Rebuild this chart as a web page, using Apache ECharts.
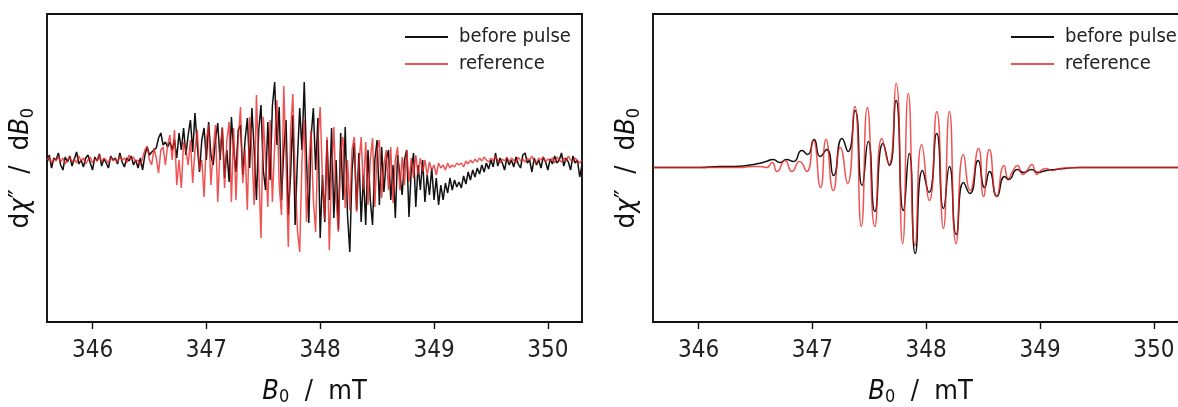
<!DOCTYPE html>
<html><head><meta charset="utf-8">
<script src="https://cdn.jsdelivr.net/npm/echarts@6/dist/echarts.min.js"></script>
<style>html,body{margin:0;padding:0;background:#fff}#c{width:1178px;height:407px}</style>
</head><body><div id="c"></div>
<script>
// magnetic field grid (mT) for the left panel
const fieldLeft = [
345.6,345.62,345.64,345.66,345.68,345.7,345.72,345.74,345.76,345.78,
345.8,345.82,345.84,345.86,345.88,345.9,345.92,345.94,345.96,345.98,
346,346.02,346.04,346.06,346.08,346.1,346.12,346.14,346.16,346.18,
346.2,346.22,346.24,346.26,346.28,346.3,346.32,346.34,346.36,346.38,
346.4,346.42,346.44,346.46,346.48,346.5,346.52,346.54,346.56,346.58,
346.6,346.62,346.64,346.66,346.68,346.7,346.72,346.74,346.76,346.78,
346.8,346.82,346.84,346.86,346.88,346.9,346.92,346.94,346.96,346.98,
347,347.02,347.04,347.06,347.08,347.1,347.12,347.14,347.16,347.18,
347.2,347.22,347.24,347.26,347.28,347.3,347.32,347.34,347.36,347.38,
347.4,347.42,347.44,347.46,347.48,347.5,347.52,347.54,347.56,347.58,
347.6,347.62,347.64,347.66,347.68,347.7,347.72,347.74,347.76,347.78,
347.8,347.82,347.84,347.86,347.88,347.9,347.92,347.94,347.96,347.98,
348,348.02,348.04,348.06,348.08,348.1,348.12,348.14,348.16,348.18,
348.2,348.22,348.24,348.26,348.28,348.3,348.32,348.34,348.36,348.38,
348.4,348.42,348.44,348.46,348.48,348.5,348.52,348.54,348.56,348.58,
348.6,348.62,348.64,348.66,348.68,348.7,348.72,348.74,348.76,348.78,
348.8,348.82,348.84,348.86,348.88,348.9,348.92,348.94,348.96,348.98,
349,349.02,349.04,349.06,349.08,349.1,349.12,349.14,349.16,349.18,
349.2,349.22,349.24,349.26,349.28,349.3,349.32,349.34,349.36,349.38,
349.4,349.42,349.44,349.46,349.48,349.5,349.52,349.54,349.56,349.58,
349.6,349.62,349.64,349.66,349.68,349.7,349.72,349.74,349.76,349.78,
349.8,349.82,349.84,349.86,349.88,349.9,349.92,349.94,349.96,349.98,
350,350.02,350.04,350.06,350.08,350.1,350.12,350.14,350.16,350.18,
350.2,350.22,350.24,350.26,350.28,350.3
];
// left panel signal, "before pulse" (arb. units)
const beforeLeft = [
-3,5,-8,2,0,7,-5,-10,3,-2,
4,-6,1,8,-4,0,-7,2,5,-3,
-10,3,-1,6,-6,1,-3,-8,4,0,
2,-4,7,-2,-7,2,-1,4,-5,0,
-8,2,-10,5,13,5,8,10,12,22,
27,15,18,13,18,10,20,2,27,10,
32,5,25,40,8,47,15,-12,20,32,
0,38,5,-5,20,37,0,32,-18,10,
-22,43,10,-12,30,35,-15,20,42,-8,
52,10,-40,30,55,-10,-30,38,-20,54,
78,15,53,-40,10,40,-55,-15,45,-65,
0,52,10,78,0,-63,23,52,-10,42,
-78,-15,-62,20,-40,32,-58,0,-70,27,
-40,33,-55,-92,-10,17,-50,7,-62,-15,
-65,10,-40,-65,0,20,-45,13,-32,0,
10,-40,-5,-58,5,-15,-35,0,10,-57,
-10,7,-47,-5,-30,0,-42,-15,-35,-8,
-40,-18,-45,-25,-40,-23,-33,-18,-30,-20,
-27,
-22,-28,-16,-24,-12,-20,-10,-17,-8,-14,
-5,-12,-3,-9,0,-7,7,-6,2,-3,
-10,2,-5,0,-7,3,-4,-8,5,7,
-3,0,-12,2,-5,0,-8,3,-2,-10,
1,-4,4,-3,0,7,-6,2,-2,-10,
4,-3,0,-17,-5
];
// left panel signal, "reference" (arb. units)
const referenceLeft = [
0,3,-3,1,-1,4,-2,2,-4,0,
3,-2,1,-3,4,-1,2,-4,0,3,
-3,1,-1,5,-2,2,0,-3,3,-1,
1,-2,4,0,2,-3,5,0,3,-2,
0,-5,2,10,14,0,-5,12,2,-13,
10,13,-5,15,25,0,30,-25,0,-28,
18,10,-5,20,-23,10,30,-10,0,-37,
20,35,-25,10,35,-42,10,33,-28,20,
38,-42,32,-40,20,53,-23,10,-50,43,
10,-45,65,-10,-78,43,0,-47,40,-42,
15,60,-25,-55,74,0,-87,30,66,-20,
-70,-92,0,40,-62,-5,30,-40,-72,20,
53,-20,-60,23,-90,-10,33,-40,-72,10,
23,-48,0,-50,10,23,-52,-5,23,-30,
18,-45,0,22,-47,10,20,-38,-5,10,
-30,13,-43,0,13,-30,3,-25,10,-22,
2,-18,5,-15,2,-12,0,-15,-2,-10,
-5,-15,-3,-8,-5,-10,-3,-8,-5,-7,
-3,
-5,-3,-7,-1,-4,0,-3,1,-2,2,
-1,3,0,-2,2,-1,4,0,-3,1,
-1,3,-2,2,0,-3,3,-1,1,-2,
2,0,4,-1,-3,2,0,3,-2,1,
-1,2,-3,3,0,-2,2,-1,4,0,
-2,2,-1,-3,0
];
// right panel, "before pulse"
const fieldRightBefore = [345.6,345.837,346.013,346.189,346.321,346.426,346.527,346.593,346.654,346.716,346.773,346.834,346.908,346.958,347.015,347.069,347.126,347.186,347.261,347.314,347.375,347.437,347.491,347.549,347.621,347.677,347.735,347.799,347.851,347.904,347.968,348.025,348.092,348.152,348.204,348.264,348.328,348.384,348.456,348.513,348.557,348.622,348.689,348.724,348.801,348.856,348.926,348.983,349.053,349.133,349.22,349.352,349.528,350.3];
const beforeRight = [0,0,0,1,1,2,4,6,8,5,8,6,17,13,28,11,18,-8,29,16,57,-18,26,-44,24,2,67,-43,14,-86,-3,-25,34,-41,1,-67,-15,-26,7,-20,-4,-29,-9,-12,-2,-5,-2,-5,-3,-2,-1,0,0,0];
// right panel, "reference"
const fieldRightRef = [345.6,346.013,346.365,346.47,346.54,346.599,346.646,346.69,346.76,346.821,346.887,346.951,347.008,347.072,347.12,347.184,347.245,347.309,347.373,347.43,347.483,347.549,347.611,347.672,347.735,347.793,347.843,347.902,347.961,348.028,348.093,348.151,348.204,348.263,348.327,348.386,348.459,348.503,348.555,348.62,348.684,348.722,348.759,348.801,348.849,348.886,348.928,348.972,349.009,349.053,349.106,349.176,349.308,349.528,350.3];
const referenceRight = [0,0,0,1,1,0,5,-4,7,-4,6,-4,27,-20,28,-23,20,-16,61,-59,60,-59,29,3,84,-76,74,-78,23,-33,56,-61,56,-76,13,-23,19,-29,18,-29,2,-11,-4,2,-7,-3,3,-7,-3,-1,-3,-1,0,0,0];
const tickValues = [346,347,348,349,350];
const seriesNames = ['before pulse','reference'];

const FF = "'DejaVu Sans Condensed','DejaVu Sans',sans-serif";
const BLACK = '#111111';
const RED = 'rgba(234,36,36,0.78)';

const pair = (xs, ys) => xs.map((x, i) => [x, ys[i]]);

const xAxisCommon = {
  type: 'value', min: 345.6, max: 350.3,
  name: '{i|B}{s|0}{t|  /  mT}', nameLocation: 'middle', nameGap: 56,
  nameTextStyle: { rich: {
    i: { fontFamily: FF, fontSize: 27, fontStyle: 'italic', color: '#111', lineHeight: 28 },
    s: { fontFamily: FF, fontSize: 18, color: '#111', lineHeight: 16, verticalAlign: 'bottom' },
    t: { fontFamily: FF, fontSize: 27, color: '#111', lineHeight: 28 }
  }},
  axisLine: { show: true, onZero: false, lineStyle: { color: '#111', width: 1.9 } },
  axisTick: { show: true, inside: false, length: 7, lineStyle: { color: '#111', width: 1.4 }, customValues: tickValues },
  axisLabel: { show: true, fontFamily: FF, fontSize: 24, color: '#222', margin: 17, customValues: tickValues },
  splitLine: { show: false }
};
const yName = {
  name: '{t|d}{c|χ}{t|″  /  d}{i|B}{s|0}', nameLocation: 'middle', nameRotate: 90, nameGap: 10,
  nameTextStyle: { rich: {
    i: { fontFamily: FF, fontSize: 27, fontStyle: 'italic', color: '#111', lineHeight: 32 },
    c: { fontFamily: FF, fontSize: 27, fontStyle: 'italic', color: '#111', lineHeight: 32 },
    s: { fontFamily: FF, fontSize: 18, color: '#111', lineHeight: 18, verticalAlign: 'bottom' },
    t: { fontFamily: FF, fontSize: 27, color: '#111', lineHeight: 32 }
  }}
};
const yAxisCommon = Object.assign({
  type: 'value', axisLine: { show: false }, axisTick: { show: false },
  axisLabel: { show: false }, splitLine: { show: false }
}, yName);

const legendCommon = {
  data: seriesNames, orient: 'vertical', top: 26, padding: 0, itemWidth: 43, itemHeight: 2, itemGap: 5,
  icon: 'rect', selectedMode: false,
  textStyle: { fontFamily: FF, fontSize: 20, color: '#222', lineHeight: 22, padding: [0, 0, 0, 6] }
};

const lineSeries = (name, xi, data, color, smooth) => ({
  type: 'line', name, xAxisIndex: xi, yAxisIndex: xi, data,
  symbol: 'none', showSymbol: false, smooth: smooth || false,
  lineStyle: { color, width: 1.5 }, itemStyle: { color }, color,
  emphasis: { disabled: true }, animation: false, z: name === 'reference' ? 3 : 2
});

const gridCommon = { top: 14, width: 535, height: 308, show: true, borderColor: '#111', borderWidth: 1.9,
  backgroundColor: 'transparent', containLabel: false, outerBoundsMode: 'none' };

const chart = echarts.init(document.getElementById('c'), null, { renderer: 'canvas' });
chart.setOption({
  animation: false,
  backgroundColor: '#ffffff',
  grid: [ Object.assign({ left: 47 }, gridCommon), Object.assign({ left: 653 }, gridCommon) ],
  xAxis: [ Object.assign({ gridIndex: 0 }, xAxisCommon), Object.assign({ gridIndex: 1 }, xAxisCommon) ],
  yAxis: [ Object.assign({ gridIndex: 0, min: -162, max: 146 }, yAxisCommon),
           Object.assign({ gridIndex: 1, min: -154.5, max: 153.5 }, yAxisCommon) ],
  legend: [ Object.assign({ left: 405 }, legendCommon), Object.assign({ left: 1011 }, legendCommon) ],
  series: [
    lineSeries('before pulse', 0, pair(fieldLeft, beforeLeft), BLACK),
    lineSeries('reference', 0, pair(fieldLeft, referenceLeft), RED),
    lineSeries('before pulse', 1, pair(fieldRightBefore, beforeRight), BLACK, 0.6),
    lineSeries('reference', 1, pair(fieldRightRef, referenceRight), RED, 0.6)
  ]
});
</script></body></html>
